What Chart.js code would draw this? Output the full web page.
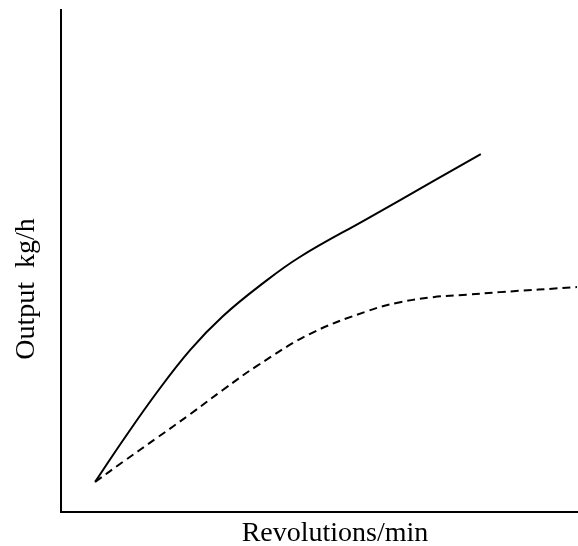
<!DOCTYPE html>
<html>
<head>
<meta charset="utf-8">
<script src="https://cdn.jsdelivr.net/npm/chart.js@4"></script>
<style>
    html, body { margin: 0; padding: 0; background: #fff; }
    #wrap { width: 578px; height: 546px; }
</style>
</head>
<body>
<div id="wrap"><canvas id="outputChart" width="578" height="546"></canvas></div>
<script>
// values (arbitrary units, 0-100 on both axes)
const revsSolid = [6.6, 12.0, 18.6, 25.0, 31.3, 39.1, 46.2, 59.2, 72.0, 81.2];
const outputSolid = [6.0, 14.3, 23.9, 32.3, 39.0, 45.6, 50.8, 58.4, 65.9, 71.3];

const revsDashed = [6.6, 12.0, 18.6, 25.0, 31.3, 37.9, 48.2, 59.2, 65.6, 72.0, 78.5, 84.9, 99.8];
const outputDashed = [6.0, 10.0, 14.8, 19.5, 24.3, 29.1, 35.5, 40.0, 41.8, 42.8, 43.3, 43.8, 44.8];

const xTitle = 'Revolutions/min';
const yTitle = 'Output  kg/h';

function toPoints(xs, ys){
    return xs.map((x, i) => ({x: x, y: ys[i]}));
}

// axis labels drawn by hand so they sit where the original has them
const axisLabels = {
    id: 'axisLabels',
    afterDraw(chart){
        const ctx = chart.ctx;
        ctx.save();
        ctx.fillStyle = '#000';
        ctx.font = '28px "Liberation Serif"';
        ctx.textAlign = 'center';
        ctx.textBaseline = 'alphabetic';
        ctx.fillText(xTitle, 335, 541);
        ctx.translate(34, 289);
        ctx.rotate(-Math.PI / 2);
        ctx.fillText(yTitle, 0, 0);
        ctx.restore();
    }
};

new Chart(document.getElementById('outputChart'), {
    type: 'line',
    data: {
        datasets: [{
            data: toPoints(revsSolid, outputSolid),
            borderColor: '#000',
            borderWidth: 2,
            pointRadius: 0,
            tension: 0.4,
            fill: false
        }, {
            data: toPoints(revsDashed, outputDashed),
            borderColor: '#000',
            borderWidth: 2,
            borderDash: [8, 5],
            pointRadius: 0,
            tension: 0.4,
            fill: false
        }]
    },
    options: {
        responsive: false,
        animation: false,
        clip: false,
        layout: { padding: { left: 61, top: 10, right: 0, bottom: 34 } },
        plugins: { legend: { display: false }, tooltip: { enabled: false } },
        scales: {
            x: {
                type: 'linear', min: 0, max: 100,
                grid: { display: false, drawTicks: false },
                ticks: { display: false },
                border: { display: true, color: '#000', width: 2 }
            },
            y: {
                type: 'linear', min: 0, max: 100,
                grid: { display: false, drawTicks: false },
                ticks: { display: false },
                border: { display: true, color: '#000', width: 2 }
            }
        }
    },
    plugins: [axisLabels]
});
</script>
</body>
</html>
